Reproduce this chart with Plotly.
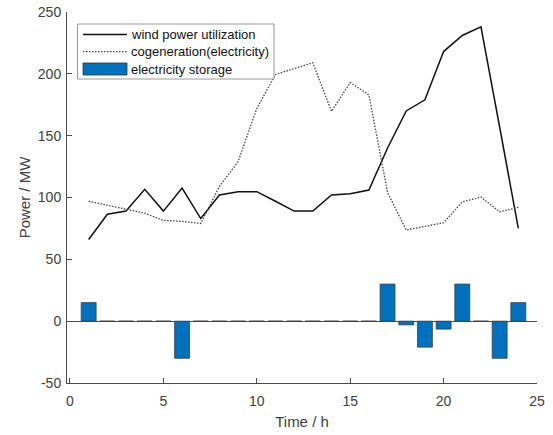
import plotly.graph_objects as go

hours = list(range(1, 25))
wind = [66, 86.5, 89, 106.6, 89, 107.6, 83, 102, 104.7, 104.7, 97, 89,
        89, 102, 103, 106, 140, 170, 179, 218, 231, 238, 157, 75]
cogen = [97, 93.7, 90.5, 87.3, 81.5, 80.7, 79, 109, 129, 172, 199.5, 204,
         209, 169.6, 193, 183, 104, 73.7, 76.4, 79.6, 96.4, 100.4, 88.4, 92]
storage = [15, 0, 0, 0, 0, -30, 0, 0, 0, 0, 0, 0,
           0, 0, 0, 0, 30, -3, -21, -6.4, 30, 0, -30, 15]

legend_labels = ["wind power utilization", "cogeneration(electricity)", "electricity storage"]
x_ticks = [0, 5, 10, 15, 20, 25]
y_ticks = [-50, 0, 50, 100, 150, 200, 250]
y_ticktext = ["-50", "0", "50", "100", "150", "200", "250"]

W, H = 553, 435
L, R, T, B = 67, 16, 12, 52
pw, ph = W - L - R, H - T - B

def px(x):
    return (x - L) / pw

def py(y):
    return (H - B - y) / ph

FONT = "Arial, Liberation Sans, Helvetica, sans-serif"
BLUE = "#0072BD"
DOT = "1.5px,1.5px"
AXC = "#4d4d4d"

fig = go.Figure()
fig.add_trace(go.Bar(x=hours, y=storage, width=0.8, marker=dict(color=BLUE, line=dict(color="#3a4048", width=0.8)),
                     name=legend_labels[2], showlegend=False))
fig.add_trace(go.Scatter(x=hours, y=wind, mode="lines", line=dict(color="#111111", width=1.5),
                         name=legend_labels[0], showlegend=False))
fig.add_trace(go.Scatter(x=hours, y=cogen, mode="lines", line=dict(color="#444444", width=1.3, dash=DOT),
                         name=legend_labels[1], showlegend=False))

# manual legend (MATLAB style)
shapes = []
annotations = []
shapes.append(dict(type="rect", xref="paper", yref="paper", x0=px(77.5), x1=px(274), y0=py(79), y1=py(24),
                   line=dict(color="#999999", width=1), fillcolor="white", layer="above"))
rows = [34.5, 51.7, 69]
shapes.append(dict(type="line", xref="paper", yref="paper", x0=px(83), x1=px(127), y0=py(rows[0]), y1=py(rows[0]),
                   line=dict(color="#111111", width=1.5), layer="above"))
shapes.append(dict(type="line", xref="paper", yref="paper", x0=px(83), x1=px(127), y0=py(rows[1]), y1=py(rows[1]),
                   line=dict(color="#444444", width=1.3, dash=DOT), layer="above"))
shapes.append(dict(type="rect", xref="paper", yref="paper", x0=px(83), x1=px(127), y0=py(75), y1=py(63),
                   line=dict(color="#2a3440", width=0.8), fillcolor=BLUE, layer="above"))
for lab, r in zip(legend_labels, rows):
    annotations.append(dict(text=lab, xref="paper", yref="paper", x=px(129), y=py(r), xanchor="left", yanchor="middle",
                            showarrow=False, font=dict(family=FONT, size=13, color="#111111")))

fig.update_layout(
    width=W, height=H,
    margin=dict(l=L, r=R, t=T, b=B, autoexpand=False),
    plot_bgcolor="white", paper_bgcolor="white",
    font=dict(family=FONT, size=14, color="#404040"),
    shapes=shapes, annotations=annotations,
    xaxis=dict(range=[-0.16, 25], tickvals=x_ticks, ticks="inside", ticklen=5, tickcolor=AXC,
               showline=True, linecolor=AXC, linewidth=1, showgrid=False, zeroline=False, automargin=False,
               ticklabelstandoff=5,
               title=dict(text="Time / h", font=dict(size=15, color="#404040"), standoff=8),
               tickfont=dict(size=14, color="#404040")),
    yaxis=dict(range=[-50, 250], tickvals=y_ticks, ticktext=y_ticktext, ticks="inside", ticklen=5, tickcolor=AXC,
               showline=True, linecolor=AXC, linewidth=1, showgrid=False, automargin=False,
               zeroline=True, zerolinecolor=AXC, zerolinewidth=1, ticklabelstandoff=2,
               title=dict(text="Power / MW", font=dict(size=15, color="#404040"), standoff=3),
               tickfont=dict(size=14, color="#404040")),
)

fig.write_html("out.html", config={"displayModeBar": False},
               post_script="document.body.style.margin='0';document.body.style.overflow='hidden';")
